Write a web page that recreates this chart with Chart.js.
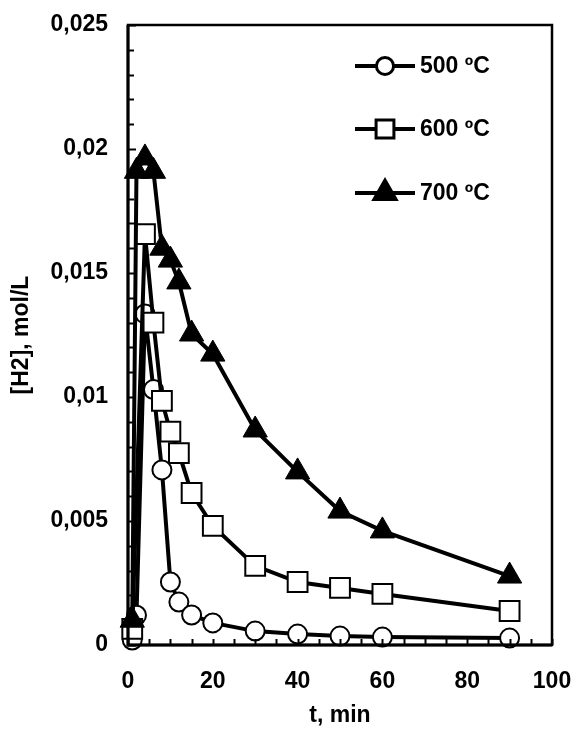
<!DOCTYPE html>
<html>
<head>
<meta charset="utf-8">
<script src="https://cdn.jsdelivr.net/npm/chart.js@4.4.1/dist/chart.umd.min.js"></script>
<style>
  html, body { margin: 0; padding: 0; background: #ffffff; }
  #wrap { width: 574px; height: 729px; position: relative; }
</style>
</head>
<body>
<div id="wrap"><canvas id="c" width="574" height="729"></canvas></div>
<script>
// ---- data ----
const seriesLabels = ['500 ºC', '600 ºC', '700 ºC'];
const t500 = [1, 2, 4, 6, 8, 10, 12, 15, 20, 30, 40, 50, 60, 90];
const h500 = [0.0002, 0.0012, 0.01335, 0.0103, 0.00706, 0.00254, 0.00173, 0.00121, 0.00089, 0.00056, 0.00044, 0.00036, 0.00032, 0.00028];
const t600 = [1, 4, 6, 8, 10, 12, 15, 20, 30, 40, 50, 60, 90];
const h600 = [0.00065, 0.01657, 0.0130, 0.00984, 0.0086, 0.00774, 0.00613, 0.0048, 0.00319, 0.00254, 0.0023, 0.00206, 0.00137];
const t700 = [1, 2, 4, 6, 8, 10, 12, 15, 20, 30, 40, 50, 60, 90];
const h700 = [0.001, 0.0191, 0.01964, 0.0191, 0.0160, 0.01552, 0.01464, 0.01254, 0.01173, 0.00867, 0.00698, 0.0054, 0.0046, 0.00278];
const xTickValues = [0, 20, 40, 60, 80, 100];
const yTickValues = [0, 0.005, 0.01, 0.015, 0.02, 0.025];
const xTitle = 't, min';
const yTitle = '[H2], mol/L';

const FONT = '"Liberation Sans", Arial, sans-serif';
const FS = 23;
const pts = (xs, ys) => xs.map((x, i) => ({ x: x, y: ys[i] }));

// inward ticks, frame and in-plot legend
const framePlugin = {
  id: 'frame',
  afterDatasetsDraw(chart) {
    const ctx = chart.ctx, a = chart.chartArea;
    const xs = chart.scales.x, ys = chart.scales.y;
    ctx.save();
    ctx.strokeStyle = '#000';
    ctx.lineWidth = 2;
    for (let v = 0; v <= 100.0001; v += 5) {
      const px = Math.round(xs.getPixelForValue(v)) + 0.5;
      ctx.beginPath(); ctx.moveTo(px, a.bottom); ctx.lineTo(px, a.bottom - 6); ctx.stroke();
    }
    for (let i = 0; i <= 25; i++) {
      const py = Math.round(ys.getPixelForValue(i * 0.001)) + 0.5;
      const len = (i % 5 === 0) ? 8 : 6;
      ctx.beginPath(); ctx.moveTo(a.left, py); ctx.lineTo(a.left + len, py); ctx.stroke();
    }
    ctx.lineWidth = 2.5;
    ctx.strokeRect(a.left, a.top, a.right - a.left, a.bottom - a.top);
    ctx.lineWidth = 3;
    ctx.beginPath(); ctx.moveTo(a.left, a.top); ctx.lineTo(a.left, a.bottom); ctx.lineTo(a.right, a.bottom); ctx.stroke();

    // legend
    const rows = [66, 129, 193];
    chart.data.datasets.forEach((ds, i) => {
      const y = rows[i];
      ctx.lineWidth = 4;
      ctx.strokeStyle = '#000';
      ctx.beginPath(); ctx.moveTo(355, y); ctx.lineTo(415, y); ctx.stroke();
      Chart.helpers.drawPoint(ctx, {
        pointStyle: ds.pointStyle, radius: ds.pointRadius * 0.85, borderWidth: ds.pointBorderWidth, rotation: 0
      }, 385, y);
      ctx.fillStyle = ds.pointBackgroundColor;
      ctx.strokeStyle = '#000';
      ctx.lineWidth = ds.pointBorderWidth;
      ctx.fill();
      ctx.stroke();
      ctx.fillStyle = '#000';
      ctx.font = 'bold ' + FS + 'px ' + FONT;
      ctx.textAlign = 'left';
      ctx.textBaseline = 'middle';
      ctx.fillText(ds.label, 420, y + 1);
    });
    ctx.restore();
  }
};

const common = { borderColor: '#000', borderWidth: 4, pointBorderColor: '#000', showLine: true, clip: false, tension: 0 };

new Chart(document.getElementById('c'), {
  type: 'scatter',
  data: {
    datasets: [
      Object.assign({}, common, { label: seriesLabels[0], data: pts(t500, h500), pointStyle: 'circle', pointRadius: 9.5, pointBorderWidth: 2, pointBackgroundColor: '#fff', order: 3 }),
      Object.assign({}, common, { label: seriesLabels[1], data: pts(t600, h600), pointStyle: 'rect', pointRadius: 14, pointBorderWidth: 2, pointBackgroundColor: '#fff', order: 2 }),
      Object.assign({}, common, { label: seriesLabels[2], data: pts(t700, h700), pointStyle: 'triangle', pointRadius: 14, pointBorderWidth: 1, pointBackgroundColor: '#000', order: 1 })
    ]
  },
  options: {
    responsive: false,
    animation: false,
    events: [],
    layout: { padding: { left: 0, right: 22, top: 25, bottom: 0 } },
    plugins: { legend: { display: false }, tooltip: { enabled: false } },
    scales: {
      x: {
        type: 'linear', min: 0, max: 100,
        afterBuildTicks: s => { s.ticks = xTickValues.map(v => ({ value: v })); },
        afterFit: s => { s.height = 84; s.paddingLeft = 0; s.paddingRight = 0; },
        grid: { display: false, drawTicks: false },
        border: { display: false },
        ticks: { color: '#000', font: { family: FONT, size: FS, weight: 'bold' }, padding: 23, maxRotation: 0 },
        title: { display: true, text: xTitle, color: '#000', font: { family: FONT, size: FS, weight: 'bold' }, padding: { top: 2, bottom: 0 } }
      },
      y: {
        type: 'linear', min: 0, max: 0.025,
        afterBuildTicks: s => { s.ticks = yTickValues.map(v => ({ value: v })); },
        afterFit: s => { s.width = 128; s.paddingTop = 0; s.paddingBottom = 0; },
        grid: { display: false, drawTicks: false },
        border: { display: false },
        ticks: {
          color: '#000', font: { family: FONT, size: FS, weight: 'bold' }, padding: 20,
          callback: v => String(Number(v.toFixed(3))).replace('.', ',')
        },
        title: { display: true, text: yTitle, color: '#000', font: { family: FONT, size: FS, weight: 'bold' }, padding: { top: 8, bottom: 0 } }
      }
    }
  },
  plugins: [framePlugin]
});
</script>
</body>
</html>
